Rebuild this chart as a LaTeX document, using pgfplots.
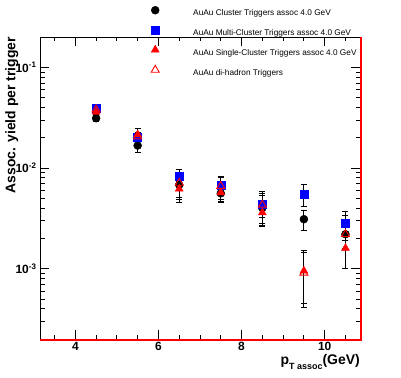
\documentclass[border=0pt]{standalone}
\usepackage{fontspec}
\setmainfont{Liberation Sans}
\usepackage{pgfplots}
\pgfplotsset{compat=1.18}
\pgfplotsset{
  mymarks/.style={only marks,
    error bars/.cd, y dir=both, y explicit,
    error bar style={black, line width=0.8bp},
    error mark options={rotate=90, black, mark size=3bp, line width=0.8bp},
    /pgfplots/.cd,
    legend image code/.code={\path[draw=none] (0bp,0bp) -- (38bp,0bp);
      \draw[##1, mark repeat=1] plot coordinates {(0bp,3bp)};}},
}
\begin{document}
\begin{tikzpicture}
\begin{axis}[
  scale only axis, width=320bp, height=302bp,
  xmin=3.15, xmax=10.85, ymin=2e-4, ymax=0.2, ymode=log,
  xtick={4,6,8,10},
  xticklabels={\textbf{4},\textbf{6},\textbf{8},\textbf{10}},
  minor xtick={3.5,4.5,5,5.5,6.5,7,7.5,8.5,9,9.5,10.5},
  ytick={1e-3,1e-2,1e-1},
  yticklabels={\textbf{10\textsuperscript{-3}},\textbf{10\textsuperscript{-2}},\textbf{10\textsuperscript{-1}}},
  minor ytick={3e-4,4e-4,5e-4,6e-4,7e-4,8e-4,9e-4,2e-3,3e-3,4e-3,5e-3,6e-3,7e-3,8e-3,9e-3,2e-2,3e-2,4e-2,5e-2,6e-2,7e-2,8e-2,9e-2},
  tick align=inside, major tick length=9bp, minor tick length=4.5bp,
  ticklabel style={font=\fontsize{12}{12}\selectfont},
  axis line style={line width=0.8bp},
  every tick/.style={black, line width=0.8bp},
  clip=false,
  xlabel={\fontsize{14}{14}\selectfont\textbf{p}\raisebox{-5bp}{\fontsize{9}{9}\selectfont\textbf{T assoc}}\textbf{(GeV)}},
  xlabel style={at={(rel axis cs:1,0)}, anchor=base east, yshift=-25bp, inner sep=0pt},
  ylabel={\fontsize{14}{14}\selectfont\textbf{Assoc. yield per trigger}},
  ylabel style={at={(axis description cs:-0.1125,1)}, anchor=north east, inner sep=0pt, yshift=-1bp},
  legend style={at={(rel axis cs:0.347,1.1026)}, anchor=north west, draw=none, fill=none,
    font=\fontsize{8.3}{8.3}\selectfont, row sep=8bp, inner sep=0pt,
    nodes={inner xsep=0pt, inner ysep=0pt, text height=7bp, text depth=2bp}},
  legend cell align=left,
  after end axis/.code={
    \coordinate (ll) at (rel axis cs:0,0);
    \coordinate (lr) at (rel axis cs:1,0);
    \coordinate (ur) at (rel axis cs:1,1);},
]
\addplot[mymarks, mark=*, mark size=4bp, black] table[x=x, y=y, y error plus=ep, y error minus=em] {
x y ep em
4.5 0.0312 0.0025 0.0025
5.5 0.0167 0.0023 0.0023
6.5 0.0068 0.0019 0.0019
7.5 0.0056 0.0010 0.0010
8.5 0.0040 0.0013 0.0013
9.5 0.0031 0.0007 0.0007
10.5 0.0022 0.0006 0.0006
};
\addlegendentry{AuAu Cluster Triggers assoc 4.0 GeV}
\addplot[mymarks, mark=square*, mark size=4bp, blue, mark options={fill=blue}] table[x=x, y=y, y error plus=ep, y error minus=em] {
x y ep em
4.5 0.0390 0.0040 0.0040
5.5 0.0200 0.0025 0.0025
6.5 0.0083 0.0014 0.0014
7.5 0.0068 0.0013 0.0013
8.5 0.0044 0.0012 0.0012
9.5 0.0055 0.0013 0.0013
10.5 0.0028 0.0009 0.0009
};
\addlegendentry{AuAu Multi-Cluster Triggers assoc 4.0 GeV}
\addplot[mymarks, mark=triangle*, mark size=4.6bp, red, mark options={fill=red}] table[x=x, y=y, y error plus=ep, y error minus=em] {
x y ep em
4.5 0.0360 0.0030 0.0030
5.5 0.0215 0.0030 0.0030
6.5 0.0062 0.0011 0.0011
7.5 0.0057 0.0010 0.0010
8.5 0.0036 0.0010 0.0010
9.5 0.00095 0.0005 0.0005
10.5 0.0016 0.0006 0.0006
};
\addlegendentry{AuAu Single-Cluster Triggers assoc 4.0 GeV}
\addplot[mymarks, mark=triangle, mark size=4.6bp, red, mark options={line width=0.9bp}] table[x=x, y=y, y error plus=ep, y error minus=em] {
x y ep em
4.5 0.0380 0.0050 0.0050
5.5 0.0205 0.0040 0.0040
6.5 0.0071 0.0025 0.0025
7.5 0.0066 0.0017 0.0017
8.5 0.0043 0.0015 0.0015
9.5 0.00091 0.0006 0.0005
10.5 0.0022 0.0012 0.0012
};
\addlegendentry{AuAu di-hadron Triggers}
\end{axis}
\draw[red, line width=1.6bp] ([yshift=-1.1bp]ll) -- ([xshift=1.1bp,yshift=-1.1bp]lr) -- ([xshift=1.1bp]ur);
\pgfresetboundingbox
\path ([shift={(-40bp,-38bp)}]ll) rectangle ([shift={(41bp,37bp)}]ur);
\end{tikzpicture}
\end{document}
